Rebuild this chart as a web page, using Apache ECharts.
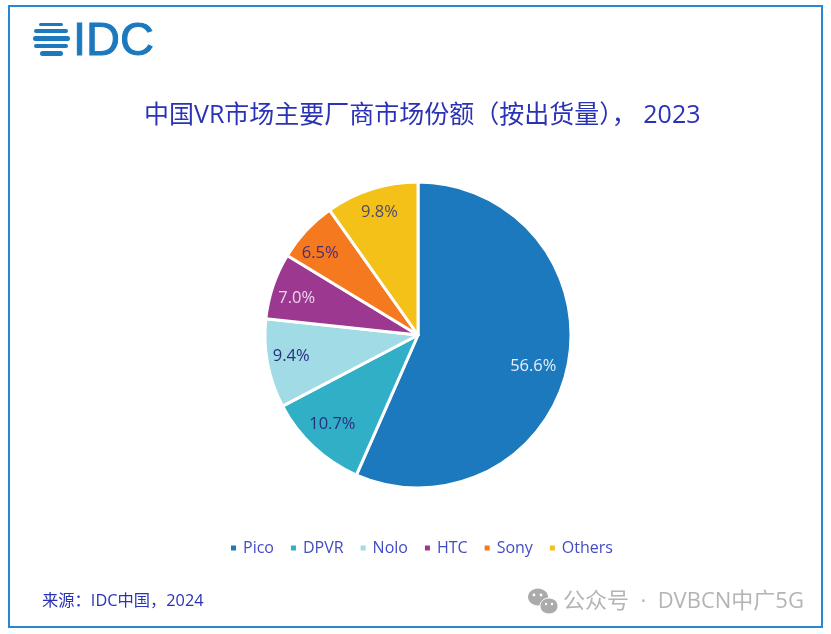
<!DOCTYPE html>
<html><head><meta charset="utf-8">
<style>html,body{margin:0;padding:0;background:#fff}#c{width:831px;height:634px}</style>
<script src="https://cdn.jsdelivr.net/npm/echarts@6/dist/echarts.min.js"></script>
</head><body><div id="c"></div>
<script>
const categories = ['Pico','DPVR','Nolo','HTC','Sony','Others'];
const shares = [56.6,10.7,9.4,7.0,6.5,9.8];
const colors = ['#1c79bd','#31afc7','#a0dbe6','#9d3890','#f5791e','#f4c118'];
const labelColors = ['#e6eefa','#27307f','#27307f','#e6d6ee','#4b2a78','#4e4a70'];
const titleText = '中国VR市场主要厂商市场份额（按出货量）， 2023';
const sourceText = '来源：IDC中国，2024';
const watermarkText = '公众号  ·  DVBCN中广5G';
const latin = '"Open Sans","Noto Sans CJK SC",sans-serif';
const blue = '#2a33b5';
// small nudges of the data labels relative to the library's inside position
const labelNudge = [[-9,5],[1,-4],[-2,-3],[-1,4],[-5,5],[0,-2]];

const pieData = categories.map((n,i)=>({name:n,value:shares[i],itemStyle:{color:colors[i]}}));
const labelData = categories.map((n,i)=>({name:n,value:shares[i],
  itemStyle:{color:'rgba(0,0,0,0)',borderWidth:0},
  label:{color:labelColors[i]}}));

const stripes = [[39,63,23,3,1.5],[34,68,29,4,2],[33,70,36,5,2.5],[34,68,44,4,2],[40,63,51,5,2.5]];
const logo = stripes.map(s=>({type:'rect',shape:{x:s[0],y:s[2],width:s[1]-s[0],height:s[3],r:s[4]},style:{fill:'#1c79bd'}}));

const chart = echarts.init(document.getElementById('c'),null,{renderer:'canvas'});
chart.setOption({
  animation:false,
  backgroundColor:'#fff',
  title:{text:titleText,left:139,top:98,
    textStyle:{fontFamily:latin,fontWeight:'normal',fontSize:25,color:blue}},
  legend:{data:categories,bottom:73,left:224,icon:'rect',itemWidth:7,itemHeight:7,itemGap:15,
    textStyle:{fontFamily:latin,fontSize:16,color:'#434cc4',padding:[0,0,0,1]}},
  series:[
    {type:'pie',center:[418,335],radius:[0,153],startAngle:90,clockwise:true,
     data:pieData,label:{show:false},labelLine:{show:false},
     itemStyle:{borderColor:'#fff',borderWidth:3},emphasis:{disabled:true}},
    {type:'pie',center:[418,335],radius:[95,153],startAngle:90,clockwise:true,silent:true,
     legendHoverLink:false,data:labelData,labelLine:{show:false},emphasis:{disabled:true},
     labelLayout:p=>({dx:labelNudge[p.dataIndex][0],dy:labelNudge[p.dataIndex][1]}),
     label:{show:true,position:'inside',fontFamily:latin,fontSize:16.5,
       formatter:p=>p.value.toFixed(1)+'%'}}
  ],
  graphic:[
    {type:'rect',z:-1,shape:{x:9,y:6,width:813,height:621},style:{fill:'none',stroke:'#2a86d0',lineWidth:2}},
    ...logo,
    {type:'text',style:{x:73,y:19,text:'IDC',fontFamily:'"Liberation Sans"',fontSize:47,fill:'#1c79bd',stroke:'#1c79bd',lineWidth:1}},
    {type:'text',style:{x:42,y:593,text:sourceText,fontFamily:latin,fontSize:16.3,fill:blue}},
    {type:'text',style:{x:563,y:591,text:watermarkText,fontFamily:latin,fontSize:22,fill:'#b4b4b4'}},
    {type:'ellipse',shape:{cx:538,cy:597,rx:10,ry:8.5},style:{fill:'#ababab'}},
    {type:'ellipse',shape:{cx:549,cy:606,rx:9,ry:8},style:{fill:'#ababab',stroke:'#fff',lineWidth:1}},
    {type:'circle',shape:{cx:534,cy:595,r:1.4},style:{fill:'#fff'}},
    {type:'circle',shape:{cx:541,cy:595,r:1.4},style:{fill:'#fff'}},
    {type:'circle',shape:{cx:546,cy:604,r:1.2},style:{fill:'#fff'}},
    {type:'circle',shape:{cx:552,cy:604,r:1.2},style:{fill:'#fff'}}
  ]
});
</script></body></html>
